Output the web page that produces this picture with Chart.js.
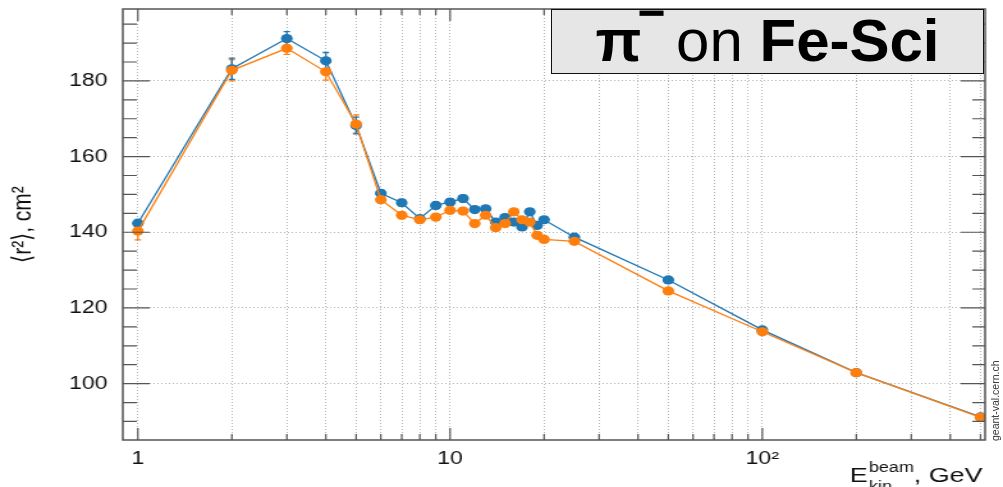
<!DOCTYPE html>
<html>
<head>
<meta charset="utf-8">
<script src="https://cdn.jsdelivr.net/npm/chart.js@4.4.1/dist/chart.umd.min.js"></script>
<style>
  body { margin: 0; background: #fff; }
  #wrap { position: absolute; left: 0; top: 0; width: 784px; height: 487px;
          transform: scaleX(1.2793); transform-origin: 0 0; }
  #titleBox { position: absolute; left: 551px; top: 9px; width: 433px; height: 65px;
              box-sizing: border-box; background: #e6e6e6; border: 1.5px solid #111;
              font-family: "Liberation Sans", Arial, sans-serif; font-size: 60px;
              line-height: 62px; text-align: center; color: #000; white-space: nowrap; }
  #titleBox .sup { font-size: 48px; font-weight: bold; position: relative; top: -32px; margin-left: -4px; margin-right: -6px; }
  #mark { position: absolute; left: 989px; top: 441px; transform-origin: 0 0;
          transform: rotate(-90deg); font-family: "Liberation Sans", Arial, sans-serif;
          font-size: 10.5px; line-height: 12px; color: #333; white-space: nowrap; }
</style>
</head>
<body>
<div id="wrap"><canvas id="chart" width="784" height="487"></canvas></div>
<div id="titleBox"><b>π</b><span class="sup">−</span> on <b>Fe-Sci</b></div>
<div id="mark">geant-val.cern.ch</div>
<script>
// beam energies, GeV
var energies = [1, 2, 3, 4, 5, 6, 7, 8, 9, 10, 11, 12, 13, 14, 15, 16, 17, 18, 19, 20, 25, 50, 100, 200, 500];

// blue series
var blueVals = [142.4, 183.2, 191.2, 185.3, 168.2, 150.3, 147.8, 143.6, 147.1, 148.0, 148.9, 146.0, 146.2,
                142.7, 143.9, 142.7, 141.4, 145.4, 141.8, 143.3, 138.7, 127.4, 114.2, 102.9, 91.2];
var blueErr = [0.8, 2.8, 1.8, 2.2, 2.2, 0.9, 0.9, 0.8, 0.9, 0.9, 0.9, 0.8, 0.8,
               0.8, 0.8, 0.8, 0.8, 0.8, 0.8, 0.8, 0.6, 0.5, 0.4, 0.3, 0.3];

// orange series
var orangeVals = [140.3, 182.8, 188.6, 182.4, 168.6, 148.6, 144.5, 143.3, 144.0, 145.8, 145.6, 142.3, 144.5,
                  141.2, 142.3, 145.4, 143.3, 142.7, 139.2, 138.1, 137.6, 124.5, 113.7, 102.9, 91.1];
var orangeErr = [2.3, 2.8, 1.6, 2.2, 2.4, 0.9, 0.9, 0.8, 0.9, 0.9, 0.9, 0.8, 0.8,
                 0.8, 0.8, 0.8, 0.8, 0.8, 0.8, 0.8, 0.6, 0.5, 0.4, 0.3, 0.3];

// axis ticks
var xTickVals = [1, 2, 3, 4, 5, 6, 7, 8, 9, 10, 20, 30, 40, 50, 60, 70, 80, 90, 100, 200, 300, 400, 500];
var xLabelVals = [1, 10, 100];
var xLabels = ["1", "10", "10²"];
var yTickVals = [90, 95, 100, 105, 110, 115, 120, 125, 130, 135, 140, 145, 150, 155, 160, 165, 170, 175, 180, 185, 190, 195];
var yMajorStep = 20;

var FONT = "'Liberation Sans', Arial, sans-serif";
var BLUE = "#1f77b4";
var ORANGE = "#ff7f0e";

function toPoints(vals) {
  return energies.map(function(e, i) { return {x: e, y: vals[i]}; });
}

function isDecade(v) {
  var l = Math.log10(v);
  return Math.abs(l - Math.round(l)) < 1e-9;
}

// error bars, drawn under the markers
var errorBars = {
  id: "errorBars",
  beforeDatasetsDraw: function(chart) {
    var ctx = chart.ctx, xs = chart.scales.x, ys = chart.scales.y;
    chart.data.datasets.forEach(function(ds) {
      ctx.save();
      ctx.strokeStyle = ds.borderColor;
      ctx.lineWidth = 1.3;
      ds.data.forEach(function(p, i) {
        var e = ds.errors[i];
        var px = xs.getPixelForValue(p.x);
        var y1 = ys.getPixelForValue(p.y + e);
        var y2 = ys.getPixelForValue(p.y - e);
        ctx.beginPath();
        ctx.moveTo(px, y1); ctx.lineTo(px, y2);
        ctx.moveTo(px - 2.5, y1); ctx.lineTo(px + 2.5, y1);
        ctx.moveTo(px - 2.5, y2); ctx.lineTo(px + 2.5, y2);
        ctx.stroke();
      });
      ctx.restore();
    });
  }
};

// ROOT style frame with inward ticks, and the x axis title
var frame = {
  id: "frame",
  afterDraw: function(chart) {
    var ctx = chart.ctx, a = chart.chartArea, xs = chart.scales.x, ys = chart.scales.y;
    ctx.save();
    ctx.strokeStyle = "#555";
    ctx.lineWidth = 1.5;
    ctx.strokeRect(a.left, a.top, a.right - a.left, a.bottom - a.top);
    ctx.lineWidth = 1.2;
    ctx.beginPath();
    xTickVals.forEach(function(v) {
      var px = xs.getPixelForValue(v);
      var len = isDecade(v) ? 12 : 6;
      ctx.moveTo(px, a.bottom); ctx.lineTo(px, a.bottom - len);
      ctx.moveTo(px, a.top); ctx.lineTo(px, a.top + len);
    });
    yTickVals.forEach(function(v) {
      var py = ys.getPixelForValue(v);
      var major = v % yMajorStep === 0;
      ctx.moveTo(a.left, py); ctx.lineTo(a.left + (major ? 21 : 11), py);
      ctx.moveTo(a.right, py); ctx.lineTo(a.right - (major ? 19 : 10), py);
    });
    ctx.stroke();

    // E_kin^beam, GeV
    var xr = a.right - 2;
    ctx.fillStyle = "#111";
    ctx.textBaseline = "alphabetic";
    ctx.font = "21px " + FONT;
    var tail = ", GeV";
    var w1 = ctx.measureText(tail).width;
    ctx.textAlign = "right";
    ctx.fillText(tail, xr, 482);
    ctx.font = "14px " + FONT;
    var w2 = Math.max(ctx.measureText("beam").width, ctx.measureText("kin").width);
    ctx.textAlign = "left";
    ctx.fillText("beam", xr - w1 - w2, 472);
    ctx.fillText("kin", xr - w1 - w2, 491);
    ctx.font = "21px " + FONT;
    ctx.textAlign = "right";
    ctx.fillText("E", xr - w1 - w2 - 1, 482);
    ctx.restore();
  }
};

var chart = new Chart(document.getElementById("chart"), {
  type: "line",
  data: {
    datasets: [
      {
        label: "orange",
        data: toPoints(orangeVals),
        errors: orangeErr,
        borderColor: ORANGE,
        backgroundColor: ORANGE,
        borderWidth: 1.3,
        pointRadius: 4.6,
        pointBorderWidth: 0,
        tension: 0,
        fill: false
      },
      {
        label: "blue",
        data: toPoints(blueVals),
        errors: blueErr,
        borderColor: BLUE,
        backgroundColor: BLUE,
        borderWidth: 1.3,
        pointRadius: 4.6,
        pointBorderWidth: 0,
        tension: 0,
        fill: false
      }
    ]
  },
  options: {
    responsive: false,
    animation: false,
    layout: { padding: { left: 0, right: 14, top: 9, bottom: 0 } },
    plugins: { legend: { display: false }, tooltip: { enabled: false } },
    scales: {
      x: {
        type: "logarithmic",
        min: 0.895,
        max: 517,
        afterBuildTicks: function(s) { s.ticks = xTickVals.map(function(v) { return {value: v}; }); },
        afterFit: function(s) { s.height = 47; s.paddingLeft = 0; s.paddingRight = 0; },
        grid: { color: "#b4b4b4", lineWidth: 1, drawTicks: false },
        border: { display: false, dash: [1, 2] },
        ticks: {
          autoSkip: false, maxRotation: 0, padding: 8, color: "#111",
          font: { family: FONT, size: 18 },
          callback: function(v) {
            var k = xLabelVals.indexOf(v);
            return k >= 0 ? xLabels[k] : "";
          }
        }
      },
      y: {
        min: 85.1,
        max: 199,
        afterBuildTicks: function(s) { s.ticks = yTickVals.map(function(v) { return {value: v}; }); },
        afterFit: function(s) { s.width = 96; s.paddingTop = 0; s.paddingBottom = 0; },
        grid: {
          color: function(c) { return c.tick && c.tick.value % yMajorStep === 0 ? "#b4b4b4" : "rgba(0,0,0,0)"; },
          lineWidth: 1, drawTicks: false
        },
        border: { display: false, dash: [1, 2] },
        ticks: {
          padding: 12, color: "#111",
          font: { family: FONT, size: 18 },
          callback: function(v) { return v % yMajorStep === 0 ? String(v) : ""; }
        },
        title: {
          display: true, text: "⟨r²⟩, cm²", color: "#111",
          font: { family: FONT, size: 21 },
          padding: { top: 6, bottom: 0 }
        }
      }
    }
  },
  plugins: [errorBars, frame]
});
</script>
</body>
</html>
